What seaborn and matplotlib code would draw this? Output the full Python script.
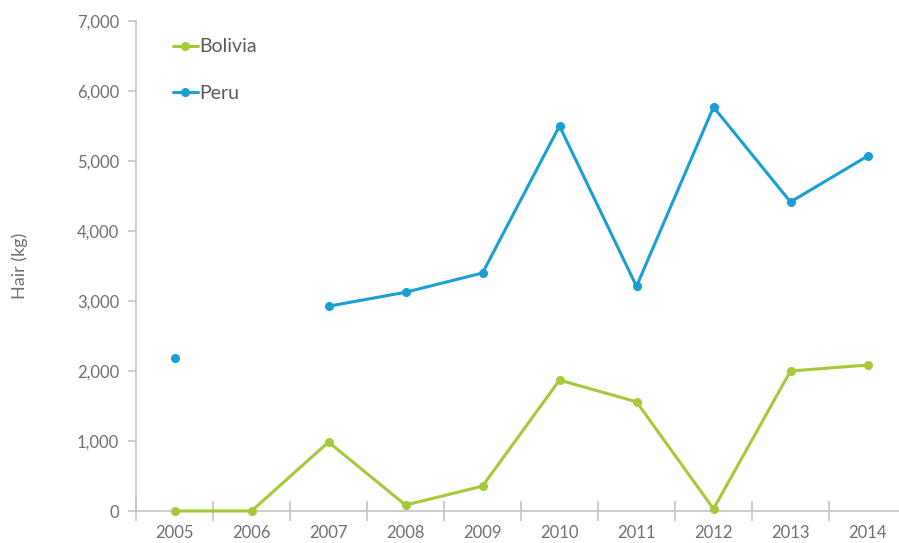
import matplotlib
matplotlib.use('Agg')
import matplotlib.pyplot as plt
import numpy as np
import pandas as pd
import seaborn as sns
from matplotlib.ticker import FuncFormatter, MultipleLocator

# data
years = [2005, 2006, 2007, 2008, 2009, 2010, 2011, 2012, 2013, 2014]
bolivia = [0, 0, 985, 85, 355, 1870, 1560, 30, 2000, 2085]
peru = [2180, np.nan, 2925, 3125, 3400, 5500, 3210, 5770, 4415, 5070]

df = pd.DataFrame({'year': years * 2,
                   'hair': bolivia + peru,
                   'country': ['Bolivia'] * len(years) + ['Peru'] * len(years)})

sns.set_style('white')
plt.rcParams['font.family'] = ['Lato', 'DejaVu Sans']
grey = '#707070'
axis_grey = '#c4c4c4'
colors = {'Bolivia': '#a6c93a', 'Peru': '#1a9fd3'}

fig = plt.figure(figsize=(8.99, 5.43), dpi=100)
ax = fig.add_axes([136 / 899, 32 / 543, 770 / 899, 490 / 543])

for name in ['Bolivia', 'Peru']:
    sub = df[df['country'] == name].set_index('year')['hair']
    ax.plot(sub.index, sub.values, color=colors[name], lw=2.2,
            marker='o', ms=5.5, label=name, clip_on=False, zorder=3)

ax.set_xlim(2004.5, 2014.5)
ax.set_ylim(0, 7000)
ax.set_xticks(years)
ax.set_xticks(np.arange(2004.5, 2015, 1), minor=True)
ax.yaxis.set_major_locator(MultipleLocator(1000))
ax.yaxis.set_major_formatter(FuncFormatter(lambda v, p: f'{int(v):,}'))

sns.despine(ax=ax)
for s in ['left', 'bottom']:
    ax.spines[s].set_color(axis_grey)
    ax.spines[s].set_linewidth(1.2)

ax.tick_params(axis='x', which='major', bottom=True, length=0, pad=10,
               labelsize=12, labelcolor=grey)
ax.tick_params(axis='x', which='minor', bottom=True, direction='inout',
               length=14, width=1.2, color=axis_grey)
ax.tick_params(axis='y', left=True, direction='out', length=6, width=1.2,
               color=axis_grey, pad=6, labelsize=12, labelcolor=grey)

ax.set_xlabel('')
ax.set_ylabel('Hair (kg)', fontsize=13, color=grey, labelpad=35)

leg = ax.legend(loc='upper left', bbox_to_anchor=(0.025, 1.0), frameon=False,
                fontsize=14, labelspacing=1.5, handlelength=1.3, handletextpad=0.05)
for t in leg.get_texts():
    t.set_color('#5a5a5a')

fig.savefig('out.png', dpi=100)
